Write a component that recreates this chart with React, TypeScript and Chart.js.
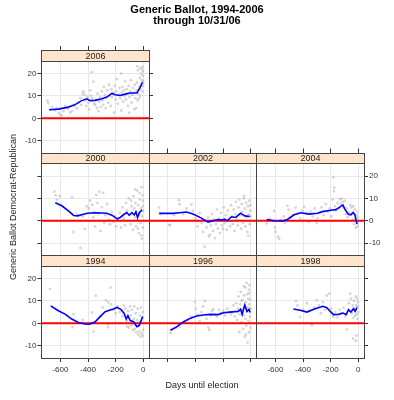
import React, { useEffect, useRef } from "react";
import { Chart, registerables } from "chart.js";

Chart.register(...registerables);

// ---------- axis definitions ----------
const xTickValues = [-600, -400, -200, 0];
const yTickValues = [-10, 0, 10, 20];
const xLimits = [-737, 42];
const yLimits = [-15.5, 25.6];
const referenceLevel = 0;

// ---------- poll points [days until election, Dem - Rep margin] ----------
const polls2006: [number, number][] = [
  [-694, 7.9], [-688, 6.8], [-660, 5.0], [-640, 3.5], [-627, 4.6], [-612, 2.4], [-600, 1.5], [-590, 1.3], [-578, 3.1],
  [-565, 5.5], [-545, 4.0], [-530, 2.5], [-518, 3.1], [-505, 6.0], [-498, 5.3], [-480, 4.5], [-470, 7.0],
  [-455, 9.0], [-448, 6.0], [-440, 11.0], [-433, 12.0], [-426, 10.5], [-420, 8.0], [-412, 5.5], [-405, 9.5], [-398, 7.0],
  [-392, 4.0], [-385, 12.5], [-380, 10.0], [-373, 20.6], [-368, 9.0], [-361, 16.4], [-355, 6.5], [-348, 6.1], [-342, 8.5],
  [-336, 4.6], [-330, 11.0], [-324, 3.1], [-318, 7.5], [-312, 9.5], [-306, 5.0], [-300, 12.0],
  [-295, 8.0], [-290, 6.0], [-284, 14.0], [-278, 10.5], [-272, 4.5], [-266, 9.0], [-260, 12.5], [-254, 7.0], [-248, 15.0],
  [-242, 10.0], [-236, 5.5], [-230, 13.0], [-224, 9.5], [-218, 11.5], [-212, 2.5], [-206, 14.5], [-200, 8.5], [-195, 12.0],
  [-190, 17.5], [-184, 6.5], [-178, 10.5], [-172, 13.5], [-166, 9.0], [-160, 3.5], [-155, 11.5], [-150, 14.0],
  [-145, 7.5], [-140, 12.5], [-135, 10.0], [-130, 16.5], [-125, 8.5], [-120, 13.0], [-115, 11.0], [-110, 5.5], [-105, 14.5],
  [-100, 9.5], [-95, 12.0], [-90, 17.0], [-85, 7.0], [-80, 10.5], [-75, 13.5], [-70, 11.5], [-65, 4.0], [-60, 15.0],
  [-55, 9.0], [-50, 12.5], [-45, 16.0], [-40, 8.0], [-35, 11.0], [-30, 14.0], [-25, 18.0], [-22, 10.0], [-18, 13.0],
  [-15, 20.0], [-12, 15.5], [-10, 22.0], [-8, 17.0], [-6, 12.0], [-4, 23.0], [-3, 19.0], [-2, 14.5], [-1, 21.0], [0, 16.5],
  [-28, 9.0], [-20, 22.5], [-52, 4.5], [-102, 2.5], [-160, 20.0], [-44, 23.2], [-38, 21.5],
];
const polls2000: [number, number][] = [
  [-644, 13.0], [-634, 11.4], [-625, 9.5], [-605, 11.1], [-515, 10.4], [-504, -5.0], [-480, 3.0], [-455, -12.1],
  [-440, 2.0], [-424, -3.7], [-410, 6.5], [-395, 5.6], [-385, 9.0], [-370, 7.1], [-362, 1.5], [-355, 4.0], [-348, -2.5],
  [-340, 11.5], [-332, 8.0], [-325, 3.0], [-318, 13.0], [-310, -4.5], [-300, 6.0], [-290, 12.5], [-282, -1.0], [-275, 2.5],
  [-262, 7.5], [-250, 0.5], [-240, -1.5], [-228, 4.0], [-215, -0.5], [-205, 2.0], [-195, -2.5], [-185, 0.5], [-170, 3.5],
  [-160, -3.0], [-150, 6.0], [-140, 1.0], [-132, -2.0], [-125, 8.0], [-118, 4.5], [-110, 0.0], [-104, 10.0], [-98, 2.5],
  [-92, -1.5], [-86, 6.5], [-80, 3.0], [-75, -4.0], [-70, 11.0], [-65, 5.5], [-60, 1.5], [-56, 8.0], [-52, -2.5],
  [-48, 4.0], [-44, 13.5], [-40, 0.5], [-36, 7.0], [-32, -5.5], [-28, 3.0], [-24, 9.5], [-20, -1.0], [-16, 5.5],
  [-12, 15.0], [-10, -8.0], [-8, 2.0], [-6, 11.5], [-4, 6.5], [-2, -3.0], [-1, 9.0], [0, 4.5], [-14, -6.5], [-26, 12.5],
  [-38, -3.5], [-58, 14.0], [-88, 9.0],
];
const polls2002: [number, number][] = [
  [-664, 5.9], [-650, 3.0], [-592, -1.8], [-583, -1.9], [-555, 2.5], [-520, 9.2], [-515, 7.4], [-490, 3.0], [-465, 5.5],
  [-430, 7.3], [-418, 4.4], [-400, 1.0], [-385, -2.5], [-370, 3.5], [-355, -1.0], [-345, -5.0], [-333, -11.6], [-320, -3.0],
  [-310, 1.5], [-302, -7.0], [-296, -6.2], [-288, -2.0], [-280, 3.0], [-272, -4.5], [-265, 0.5], [-260, -7.7], [-252, -1.5],
  [-245, 5.0], [-238, -3.5], [-230, 1.0], [-222, -5.5], [-215, 3.5], [-208, -2.0], [-200, -3.7], [-194, 6.0], [-188, -1.0],
  [-180, 2.5], [-172, -4.0], [-165, 4.5], [-158, 0.0], [-150, -2.5], [-143, 7.0], [-136, 2.0], [-130, -1.5], [-124, 5.0],
  [-118, -4.5], [-112, 3.0], [-106, 8.5], [-100, 0.5], [-94, -2.0], [-88, 6.0], [-82, 9.5], [-76, 2.5], [-70, -3.5],
  [-65, 7.5], [-60, 4.0], [-55, -1.0], [-50, 10.0], [-47, 11.1], [-42, 5.5], [-38, -2.5], [-33, 8.0], [-28, 1.5],
  [-24, -5.0], [-20, 6.5], [-18, -6.7], [-14, 3.0], [-10, 9.0], [-7, -1.5], [-4, 4.5], [-2, 7.0], [0, 2.0],
];
const polls2004: [number, number][] = [
  [-663, -1.2], [-640, 1.0], [-610, 4.4], [-605, -3.0], [-600, -4.9], [-581, -7.1], [-573, -8.1], [-560, 0.5], [-540, 2.0],
  [-530, -1.0], [-513, 6.7], [-505, 5.0], [-490, 1.5], [-469, 2.5], [-453, 5.9], [-440, 3.0], [-420, 1.0], [-405, 4.5],
  [-392, 6.2], [-375, 3.5], [-360, -0.5], [-345, 4.0], [-330, 2.0], [-315, 5.5], [-300, -1.0], [-295, 1.2], [-280, 3.5],
  [-265, 6.0], [-250, 2.5], [-235, 7.4], [-220, 4.0], [-205, 5.5], [-195, 2.0], [-185, 9.5], [-179, 19.3], [-176, 13.3],
  [-174, 14.8], [-168, 6.5], [-160, 4.5], [-150, 8.0], [-140, 5.5], [-132, 9.6], [-126, 7.5], [-120, 10.0], [-112, 8.5],
  [-105, 6.0], [-98, 9.0], [-90, 3.0], [-84, 5.5], [-78, 1.5], [-70, 4.0], [-62, 2.5], [-56, 7.0], [-50, 5.9], [-45, 3.5],
  [-40, 0.5], [-35, 6.5], [-30, 3.0], [-29, -1.5], [-24, 5.0], [-20, 1.0], [-17, -3.0], [-12, 2.5], [-8, -1.0], [-5, 4.0],
  [-3, -2.5], [-1, 1.5],
];
const polls1994: [number, number][] = [
  [-675, 15.3], [-513, -1.8], [-505, 4.1], [-440, 1.5], [-372, 4.9], [-360, -3.7], [-344, 12.3], [-310, 3.0], [-295, 7.1],
  [-270, 10.2], [-257, -1.8], [-255, -0.5], [-252, 9.3], [-237, 15.9], [-232, 8.5], [-215, 6.0], [-200, 4.5], [-185, 7.5],
  [-170, 5.0], [-150, 3.0], [-140, 8.0], [-130, 6.5], [-120, 1.0], [-115, -1.5], [-108, 5.5], [-102, -2.0], [-95, 7.5],
  [-90, 3.5], [-85, -1.0], [-80, 6.0], [-75, -3.0], [-70, 2.0], [-65, 7.5], [-60, -2.5], [-55, 4.5], [-50, -4.0],
  [-45, 1.5], [-40, 6.5], [-36, -5.0], [-32, 0.5], [-28, -3.5], [-24, 3.5], [-20, -6.0], [-16, 7.0], [-12, -4.5],
  [-8, 2.5], [-5, -5.5], [-2, 5.0], [0, -3.0],
];
const polls1996: [number, number][] = [
  [-581, -4.4], [-578, -3.0], [-540, -2.0], [-513, -1.5], [-480, 0.5], [-455, 1.5], [-430, 3.0], [-404, 9.5], [-398, 6.5],
  [-385, 4.0], [-370, 1.0], [-358, 5.0], [-345, 7.5], [-332, 9.9], [-320, 2.0], [-307, -1.9], [-300, -3.0], [-290, 3.5],
  [-280, 5.5], [-271, 6.2], [-260, 4.0], [-245, 3.0], [-230, 6.0], [-215, 4.5], [-200, 5.5], [-185, 3.5], [-170, 6.5],
  [-155, 5.0], [-140, 4.0], [-125, 8.0], [-115, 3.0], [-105, 9.0], [-98, 1.5], [-92, 6.5], [-88, 12.0], [-84, -4.0],
  [-80, 4.0], [-76, 8.5], [-72, 14.0], [-68, 0.5], [-64, 6.0], [-60, 10.5], [-56, -2.5], [-52, 3.5], [-48, 12.5],
  [-45, 7.5], [-42, -6.0], [-40, 16.0], [-38, 2.0], [-35, 9.5], [-32, -1.0], [-29, 18.0], [-27, 5.5], [-24, 13.0],
  [-22, -8.6], [-20, 7.0], [-18, 11.0], [-16, 1.0], [-14, 15.0], [-12, -4.0], [-10, 8.5], [-8, 17.0], [-6, 3.0],
  [-4, 10.5], [-2, -2.0], [0, 6.5], [-50, 16.5], [-66, 10.0], [-35, -5.0], [-10, 13.5],
];
const polls1998: [number, number][] = [
  [-450, 9.9], [-440, 8.0], [-421, 2.8], [-400, 6.0], [-372, 9.0], [-355, 5.5], [-336, -0.9], [-320, 7.0], [-300, 10.2],
  [-285, 8.0], [-270, 4.5], [-255, 9.5], [-240, 6.0], [-227, 12.4], [-210, 13.3], [-195, 6.5], [-180, 3.0], [-165, 5.0],
  [-150, 2.5], [-135, 6.0], [-120, 4.5], [-105, 7.0], [-95, 3.0], [-82, -2.8], [-75, 5.5], [-68, 9.0], [-58, 13.2],
  [-52, 11.0], [-46, 4.5], [-40, 8.0], [-38, -6.8], [-34, 2.5], [-30, 10.0], [-26, 6.5], [-22, 3.5], [-18, 12.0],
  [-16, -7.8], [-14, 8.0], [-12, -5.5], [-10, 4.0], [-8, 11.0], [-6, 2.0], [-4, 7.5], [-2, 9.5], [0, 5.0],
];

// ---------- smoothed trend lines [days, margin] ----------
const trend2006: [number, number][] = [
  [-682, 3.8], [-615, 4.1], [-542, 5.0], [-494, 6.1], [-445, 7.9], [-409, 8.7], [-385, 7.9], [-348, 8.0], [-300, 8.7],
  [-264, 9.5], [-227, 11.1], [-203, 10.5], [-167, 10.2], [-131, 10.8], [-94, 11.3], [-46, 11.3], [-22, 13.8], [-5, 16.1],
];
const trend2000: [number, number][] = [
  [-637, 8.1], [-590, 6.7], [-542, 4.4], [-504, 2.4], [-475, 2.2], [-440, 2.8], [-405, 3.4], [-382, 3.5], [-340, 3.6],
  [-300, 3.5], [-264, 3.4], [-227, 2.5], [-189, 0.9], [-167, 1.5], [-143, 2.7], [-119, 3.7], [-102, 2.5], [-82, 3.7],
  [-65, 2.6], [-53, 4.0], [-41, 1.5], [-27, 3.7], [-8, 4.9],
];
const trend2002: [number, number][] = [
  [-664, 3.3], [-563, 3.3], [-515, 3.6], [-466, 3.9], [-418, 3.0], [-357, 1.2], [-309, -0.6], [-272, 0.0], [-236, 0.6],
  [-212, 0.3], [-188, 0.7], [-171, 0.0], [-139, 1.8], [-108, 1.5], [-74, 3.4], [-43, 2.2], [-6, 1.9],
];
const trend2004: [number, number][] = [
  [-663, 0.6], [-610, 0.0], [-549, -0.1], [-513, 0.6], [-465, 2.7], [-416, 3.6], [-356, 3.0], [-295, 3.4], [-259, 4.1],
  [-198, 4.7], [-162, 5.0], [-131, 6.2], [-111, 7.1], [-97, 5.2], [-73, 3.0], [-53, 2.7], [-36, 3.7], [-24, 2.7], [-9, -1.5],
];
const trend1994: [number, number][] = [
  [-670, 7.8], [-615, 5.6], [-566, 4.1], [-518, 1.9], [-469, 0.4], [-421, -0.3], [-390, -0.4], [-348, 0.7], [-312, 3.0],
  [-276, 5.2], [-240, 5.9], [-215, 6.4], [-190, 7.1], [-160, 6.1], [-138, 4.4], [-123, 1.9], [-111, 3.4], [-94, 1.2],
  [-70, 0.7], [-46, -1.5], [-29, -1.0], [-15, 1.2], [-4, 3.0],
];
const trend1996: [number, number][] = [
  [-581, -3.1], [-537, -1.6], [-489, 0.6], [-440, 2.2], [-392, 3.3], [-344, 3.7], [-295, 4.0], [-235, 3.9], [-198, 4.7],
  [-150, 5.0], [-114, 5.2], [-90, 5.3], [-73, 6.3], [-62, 4.0], [-43, 8.2], [-27, 5.3], [-12, 6.2], [-4, 4.8],
];
const trend1998: [number, number][] = [
  [-470, 6.4], [-421, 5.8], [-372, 5.0], [-312, 6.5], [-256, 7.6], [-227, 7.0], [-203, 5.3], [-179, 3.9], [-142, 4.0],
  [-111, 4.6], [-87, 3.9], [-70, 6.1], [-53, 5.0], [-34, 6.5], [-22, 5.3], [-9, 7.0],
];

// ---------- layout / style ----------
const PAGE_W = 394;
const PAGE_H = 400;
const colEdges = [41.5, 149, 256.5, 364];
const rowPlotTops = [61, 163.5, 266];
const plotHeight = 92;
const stripHeight = 10.5;
const FONT = "'Liberation Sans', Arial, Helvetica, sans-serif";
const gridColor = "#e8e8e8";
const tickColor = "#333333";
const frameColor = "#444444";
const stripColor = "#ffe5cc";

type Side = "labels" | "ticks" | "none";
interface PanelSpec {
  label: string;
  row: number;
  col: number;
  polls: [number, number][];
  trend: [number, number][];
  left: Side;
  right: Side;
  top: Side;
  bottom: Side;
}

const panels: PanelSpec[] = [
  { label: "2006", row: 0, col: 0, polls: polls2006, trend: trend2006, left: "labels", right: "ticks", top: "ticks", bottom: "none" },
  { label: "2000", row: 1, col: 0, polls: polls2000, trend: trend2000, left: "ticks", right: "none", top: "none", bottom: "none" },
  { label: "2002", row: 1, col: 1, polls: polls2002, trend: trend2002, left: "none", right: "none", top: "ticks", bottom: "none" },
  { label: "2004", row: 1, col: 2, polls: polls2004, trend: trend2004, left: "none", right: "labels", top: "ticks", bottom: "none" },
  { label: "1994", row: 2, col: 0, polls: polls1994, trend: trend1994, left: "labels", right: "none", top: "none", bottom: "labels" },
  { label: "1996", row: 2, col: 1, polls: polls1996, trend: trend1996, left: "none", right: "none", top: "none", bottom: "ticks" },
  { label: "1998", row: 2, col: 2, polls: polls1998, trend: trend1998, left: "none", right: "ticks", top: "none", bottom: "labels" },
];

const AX_W = 30;
const AX_H = 20;

const fixSize = (size: number, horizontal: boolean) => (s: any) => {
  if (horizontal) s.height = size;
  else s.width = size;
  s.paddingLeft = 0;
  s.paddingRight = 0;
  s.paddingTop = 0;
  s.paddingBottom = 0;
};

const setTicks = (values: number[]) => (s: any) => {
  s.ticks = values.map((v) => ({ value: v }));
};

const tickFont = { family: FONT, size: 8 };

const panelPlugin = {
  id: "latticePanel",
  afterDraw(chart: any, _args: any, opts: any) {
    const { ctx, chartArea: a } = chart;
    const snap = (v: number) => Math.round(v - 0.5) + 0.5;
    const l = snap(a.left);
    const r = snap(a.right);
    const t = snap(a.top);
    const b = snap(a.bottom);
    const st = snap(a.top - stripHeight);
    ctx.save();
    ctx.fillStyle = stripColor;
    ctx.fillRect(l, st, r - l, t - st);
    ctx.strokeStyle = frameColor;
    ctx.lineWidth = 1;
    ctx.strokeRect(l, st, r - l, t - st);
    ctx.strokeRect(l, t, r - l, b - t);
    ctx.fillStyle = "#222";
    ctx.font = `9px ${FONT}`;
    ctx.textAlign = "center";
    ctx.textBaseline = "middle";
    ctx.fillText(opts.label, (l + r) / 2, (st + t) / 2 + 0.5);
    ctx.restore();
  },
};

function Panel({ spec }: { spec: PanelSpec }) {
  const ref = useRef<HTMLCanvasElement | null>(null);
  useEffect(() => {
    if (!ref.current) return;
    const left = colEdges[spec.col];
    const right = colEdges[spec.col + 1];
    const top = rowPlotTops[spec.row];
    const bottom = top + plotHeight;
    const chart = new Chart(ref.current, {
      type: "scatter",
      data: {
        datasets: [
          {
            data: spec.trend.map(([x, y]) => ({ x, y })),
            showLine: true,
            borderColor: "#0000ff",
            borderWidth: 1.6,
            pointRadius: 0,
            tension: 0,
            order: 0,
          } as any,
          {
            data: xLimits.map((x) => ({ x, y: referenceLevel })),
            showLine: true,
            borderColor: "#ff0000",
            borderWidth: 2,
            pointRadius: 0,
            order: 1,
          } as any,
          {
            data: spec.polls.map(([x, y]) => ({ x, y })),
            showLine: false,
            pointRadius: 1.4,
            pointBorderWidth: 0,
            pointBackgroundColor: "rgba(165,165,165,0.45)",
            order: 2,
          } as any,
        ],
      },
      options: {
        animation: false,
        responsive: false,
        devicePixelRatio: 1,
        events: [],
        layout: {
          autoPadding: false,
          padding: {
            left: left - AX_W,
            right: PAGE_W - right - AX_W,
            top: top - AX_H,
            bottom: PAGE_H - bottom - AX_H,
          },
        } as any,
        plugins: {
          legend: { display: false },
          tooltip: { enabled: false },
          latticePanel: { label: spec.label },
        } as any,
        scales: {
          x: {
            type: "linear",
            position: "bottom",
            min: xLimits[0],
            max: xLimits[1],
            afterBuildTicks: setTicks(xTickValues),
            afterFit: fixSize(AX_H, true),
            border: { display: false },
            grid: {
              color: gridColor,
              lineWidth: 1,
              drawTicks: spec.bottom !== "none",
              tickLength: 4,
              tickColor,
            },
            ticks: {
              display: spec.bottom === "labels",
              padding: 3,
              font: tickFont,
              color: "#333",
              maxRotation: 0,
              autoSkip: false,
            },
          },
          x2: {
            type: "linear",
            position: "top",
            axis: "x",
            min: xLimits[0],
            max: xLimits[1],
            afterBuildTicks: setTicks(xTickValues),
            afterFit: fixSize(AX_H, true),
            border: { display: false },
            grid: {
              display: spec.top !== "none",
              drawOnChartArea: false,
              drawTicks: true,
              tickLength: stripHeight + 4.5,
              tickColor,
            },
            ticks: { display: false },
          },
          y: {
            type: "linear",
            position: "left",
            min: yLimits[0],
            max: yLimits[1],
            afterBuildTicks: setTicks(yTickValues),
            afterFit: fixSize(AX_W, false),
            border: { display: false },
            grid: {
              color: gridColor,
              lineWidth: 1,
              drawTicks: spec.left !== "none",
              tickLength: 4,
              tickColor,
            },
            ticks: {
              display: spec.left === "labels",
              padding: 1,
              font: tickFont,
              color: "#333",
              autoSkip: false,
            },
          },
          y2: {
            type: "linear",
            position: "right",
            axis: "y",
            min: yLimits[0],
            max: yLimits[1],
            afterBuildTicks: setTicks(yTickValues),
            afterFit: fixSize(AX_W, false),
            border: { display: false },
            grid: {
              display: spec.right !== "none",
              drawOnChartArea: false,
              drawTicks: true,
              tickLength: 4,
              tickColor,
            },
            ticks: {
              display: spec.right === "labels",
              padding: 1,
              font: tickFont,
              color: "#333",
              autoSkip: false,
            },
          },
        } as any,
      },
      plugins: [panelPlugin],
    });
    return () => chart.destroy();
  }, [spec]);
  return (
    <canvas
      ref={ref}
      width={PAGE_W}
      height={PAGE_H}
      style={{ position: "absolute", left: 0, top: 0, width: PAGE_W, height: PAGE_H }}
    />
  );
}

export default function App() {
  return (
    <div
      style={{
        position: "absolute",
        left: 0,
        top: 0,
        width: PAGE_W,
        height: PAGE_H,
        background: "#ffffff",
        overflow: "hidden",
        fontFamily: FONT,
      }}
    >
      {panels.map((p) => (
        <Panel key={p.label} spec={p} />
      ))}
      <div
        style={{
          position: "absolute",
          left: 0,
          top: 3.5,
          width: PAGE_W,
          textAlign: "center",
          fontWeight: "bold",
          fontSize: 11,
          lineHeight: "11.4px",
          color: "#000",
        }}
      >
        Generic Ballot, 1994-2006
        <br />
        through 10/31/06
      </div>
      <div
        style={{
          position: "absolute",
          left: 102,
          top: 380,
          width: 200,
          textAlign: "center",
          fontSize: 9,
          lineHeight: "10px",
          color: "#222",
        }}
      >
        Days until election
      </div>
      <div
        style={{
          position: "absolute",
          left: 12.5 - 100,
          top: 207 - 5,
          width: 200,
          height: 10,
          textAlign: "center",
          fontSize: 9,
          lineHeight: "10px",
          color: "#222",
          transform: "rotate(-90deg)",
          transformOrigin: "50% 50%",
          whiteSpace: "nowrap",
        }}
      >
        Generic Ballot Democrat-Republican
      </div>
    </div>
  );
}
